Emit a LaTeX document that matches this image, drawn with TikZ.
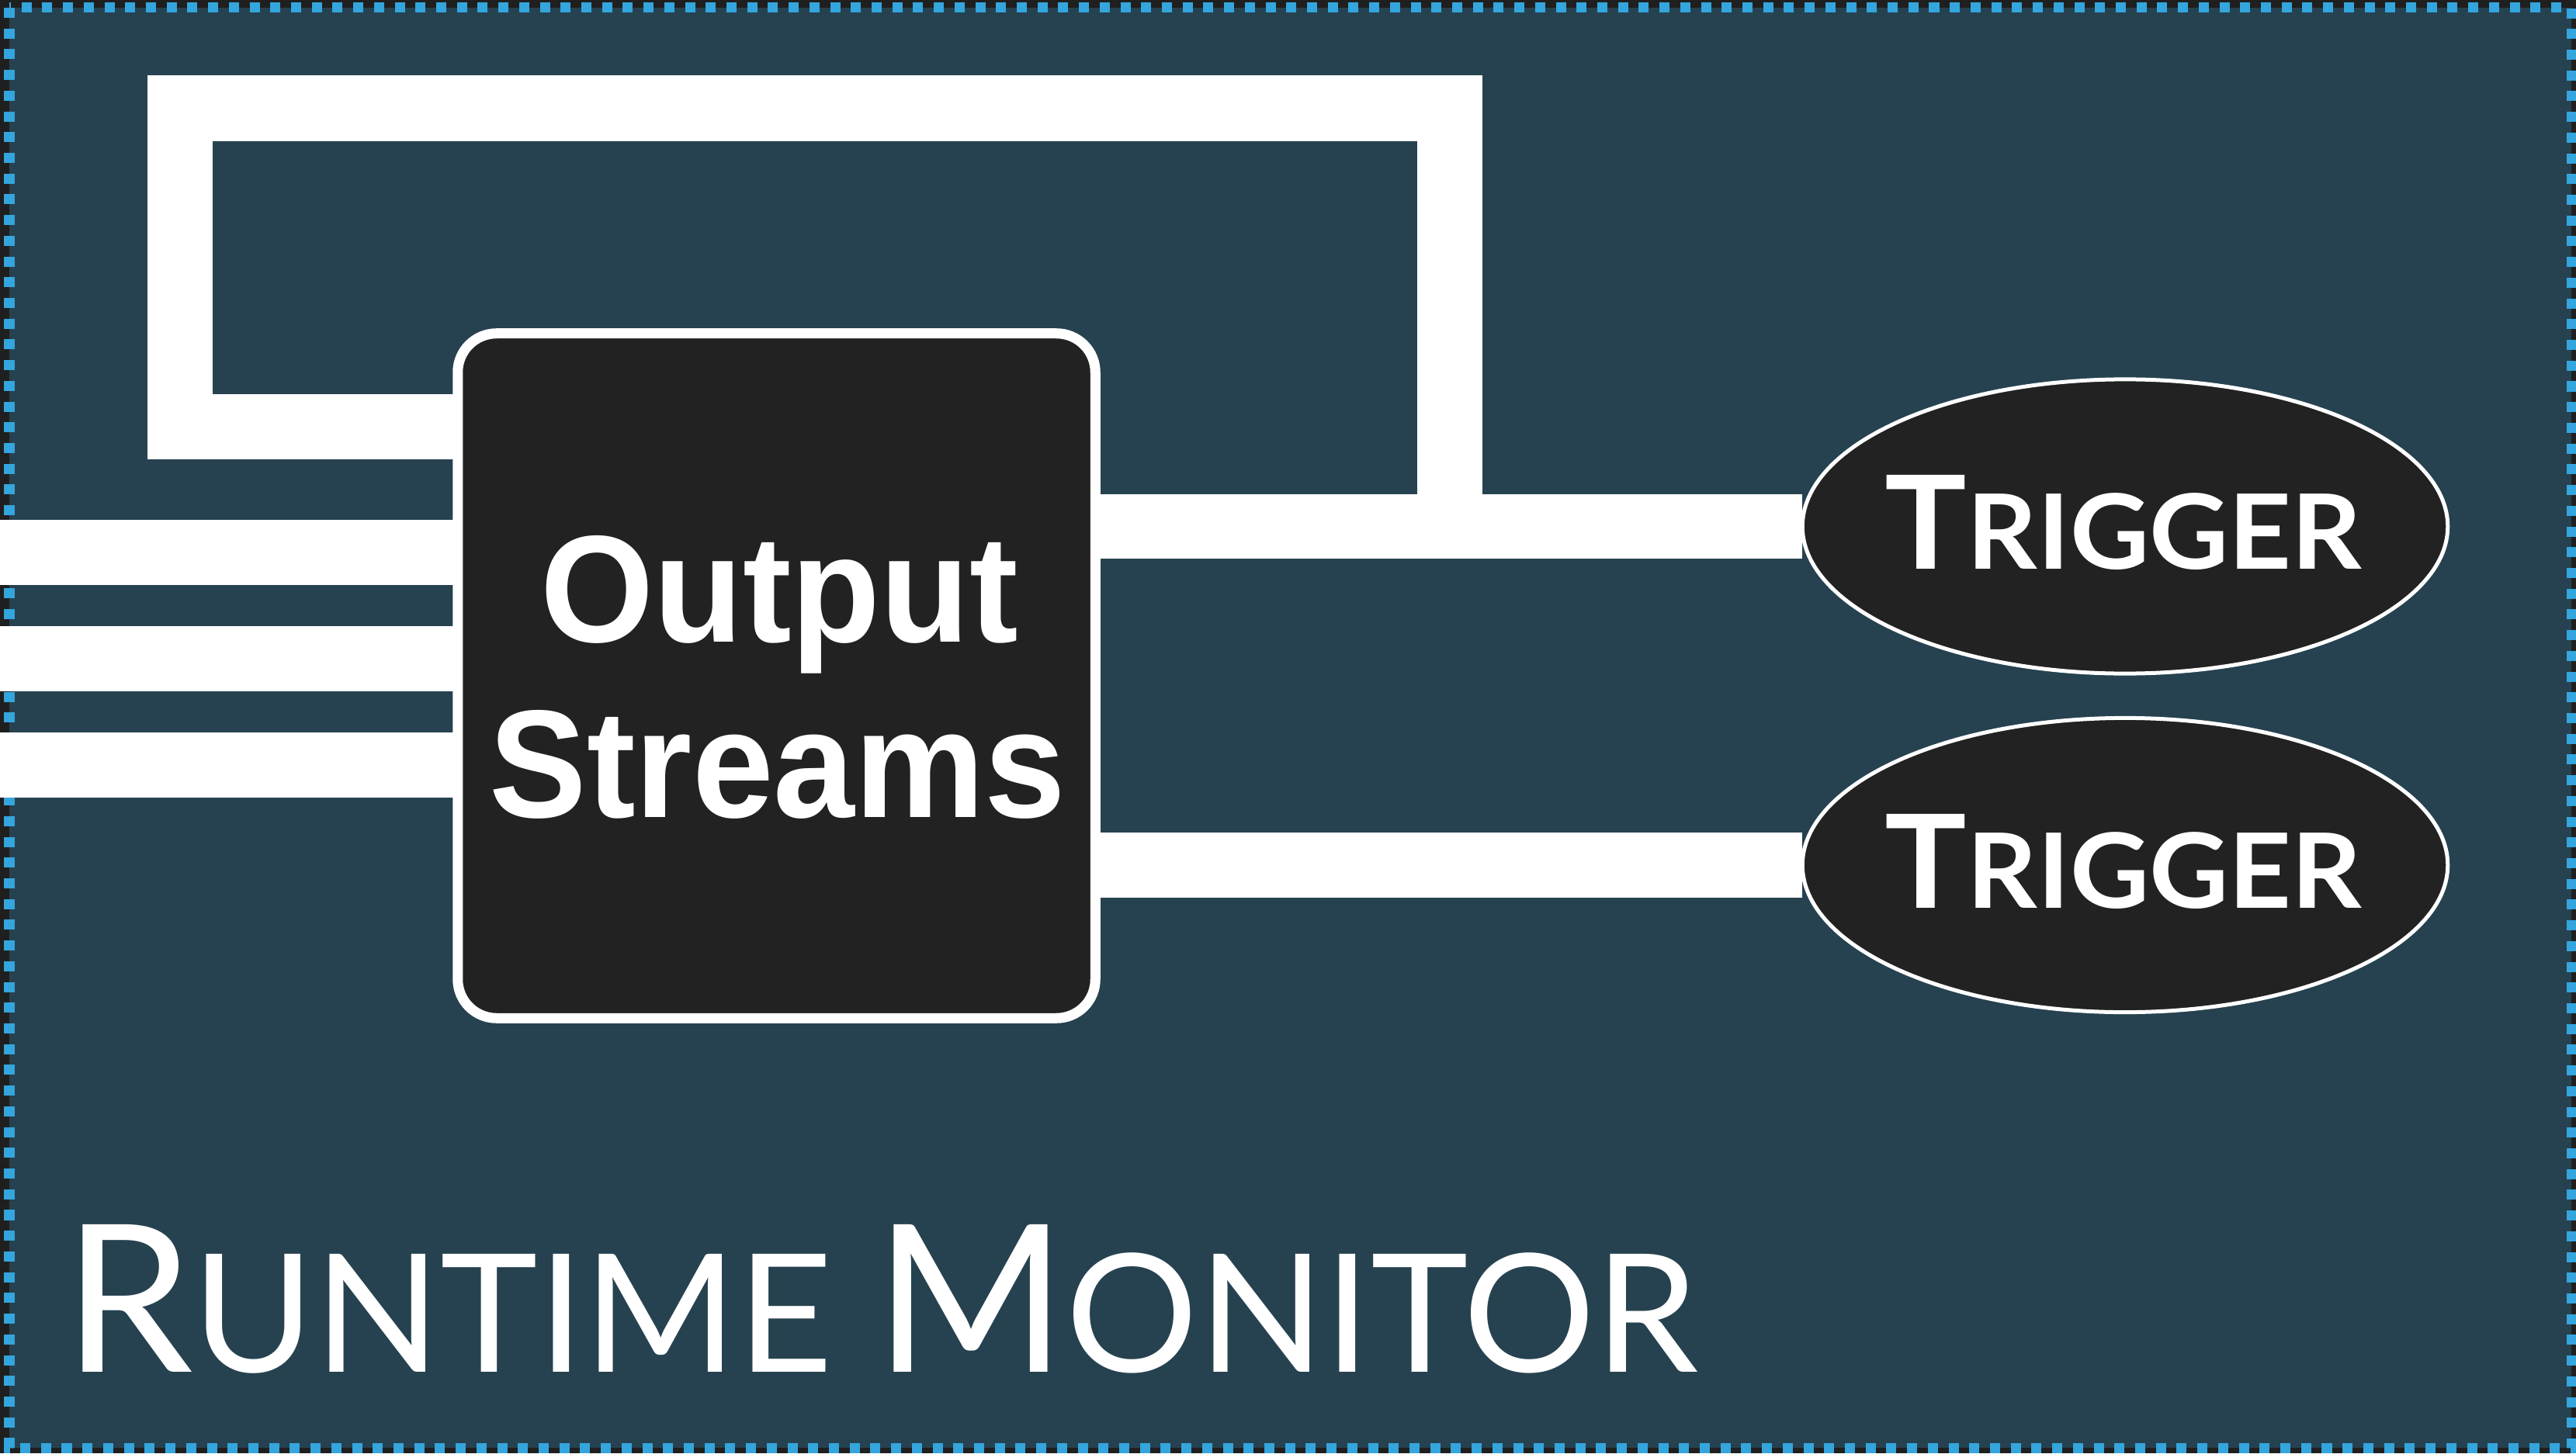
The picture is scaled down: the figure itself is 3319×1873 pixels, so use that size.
\documentclass[tikz,border=0pt]{standalone}
\usepackage{fontspec}
\usepackage{graphicx}
\setmainfont{Liberation Sans}
\newfontfamily\latofont{Lato}
\usetikzlibrary{shapes.geometric}
\definecolor{slate}{HTML}{264250}
\definecolor{outerdark}{HTML}{1F1F1F}
\definecolor{boxdark}{HTML}{222222}
\definecolor{dashblue}{HTML}{34A5DD}
\pgfdeclarelayer{bg}
\pgfsetlayers{bg,main}
\newcommand\trigtext{{\latofont\bfseries\fontsize{40}{40}\selectfont T\fontsize{32}{32}\selectfont RIGGER}}
\newcommand\rmtitle{{\latofont\fontsize{40}{40}\selectfont R\fontsize{32}{32}\selectfont UNTIME \fontsize{40}{40}\selectfont M\fontsize{32}{32}\selectfont ONITOR}}
\begin{document}
\begin{tikzpicture}[x=0.01cm,y=-0.01cm,
  wire/.style={draw=white, line width=0.83cm},
  streambox/.style={draw=white, fill=boxdark, line width=0.13cm, rounded corners=0.5cm,
    minimum width=8.21cm, minimum height=8.82cm, inner sep=0, outer sep=0},
  trig/.style={ellipse, draw=white, fill=boxdark, line width=0.05cm,
    minimum width=8.31cm, minimum height=3.79cm, inner sep=0, outer sep=0},
  txt/.style={text=white, inner sep=0, outer sep=0},
  frame/.style={draw=dashblue, line width=0.13cm, dash pattern=on 0.13cm off 0.137cm}
]
\useasboundingbox (0,0) rectangle (3319,1873);

% nodes
\node[streambox] (os) at (1000.5,871) {};
\node[trig] (t1) at (2738,678.5) {};
\node[trig] (t2) at (2738,1115) {};
\node[txt, anchor=base] (o1) at (1004,827) {\resizebox{6.15cm}{1.37cm}{\bfseries Output}};
\node[txt, anchor=base] (o2) at (1002,1053) {\resizebox{7.42cm}{1.38cm}{\bfseries Streams}};
\node[txt, anchor=base] (tt1) at (2736,733) {\resizebox{6.14cm}{1.21cm}{\trigtext}};
\node[txt, anchor=base] (tt2) at (2736,1170) {\resizebox{6.14cm}{1.21cm}{\trigtext}};
\node[txt, anchor=base west] (rm) at (82,1768) {\resizebox{21.05cm}{1.90cm}{\rmtitle}};

\begin{pgfonlayer}{bg}
\fill[outerdark] (0,0) rectangle (3319,1873);
\fill[slate] (12,10) rectangle (3313,1866);
\draw[frame] (12,10) rectangle (3313,1866);
% inputs
\coordinate (in1) at (0,712);
\coordinate (in2) at (0,849);
\coordinate (in3) at (0,986);
\draw[wire] (in1) -- (in1 -| os.west);
\draw[wire] (in2) -- (in2 -| os.west);
\draw[wire] (in3) -- (in3 -| os.west);
% outputs to triggers
\draw[wire] (t1.west -| os.east) -- (t1.west);
\draw[wire] (t2.west -| os.east) -- (t2.west);
% feedback loop
\coordinate (fbL) at (232,550);
\coordinate (fbT) at (1868,139.5);
\draw[wire, line width=0.84cm] (os.west |- fbL) -- (fbL) |- (fbT) -- (fbT |- t1.west);
\end{pgfonlayer}
\end{tikzpicture}
\end{document}
